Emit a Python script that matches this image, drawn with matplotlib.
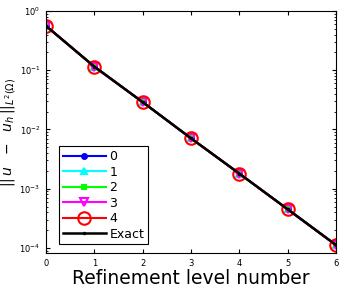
import numpy as np
import matplotlib
matplotlib.use("Agg")
import matplotlib.pyplot as plt

levels = [0, 1, 2, 3, 4, 5, 6]
err = [0.56, 0.115, 0.029, 0.0071, 0.0018, 0.00045, 0.000112]
series = ["0", "1", "2", "3", "4"]

styles = {
    "0": dict(color="blue", marker="o", ms=3.5, mfc="blue"),
    "1": dict(color="cyan", marker="^", ms=5, mfc="cyan"),
    "2": dict(color="lime", marker="s", ms=3.5, mfc="none"),
    "3": dict(color="magenta", marker="v", ms=6, mfc="none"),
    "4": dict(color="red", marker="o", ms=9, mfc="none"),
}

fig = plt.figure(figsize=(3.49, 2.96), dpi=100)
ax = fig.add_axes([46 / 349, 43 / 296, 290 / 349, 242 / 296])

for s in series:
    st = styles[s]
    ax.plot(levels, err, color=st["color"], marker=st["marker"], markersize=st["ms"],
            markerfacecolor=st["mfc"], markeredgecolor=st["color"], lw=1.5, mew=1.5, label=s)
ax.plot(levels, err, color="black", marker=".", markersize=3, lw=1.8, label="Exact")

ax.set_yscale("log")
ax.set_xlim(0, 6)
ax.set_ylim(10 ** -4.085, 1)
ax.set_xticks(levels)
ax.tick_params(labelsize=6, direction="in", which="both", top=True, right=True, length=3, pad=4)
ax.tick_params(which="minor", length=1.5)
ax.set_xlabel("Refinement level number", fontsize=13.5, labelpad=1)
ax.set_ylabel(r"$||\,u\ \ -\ \ u_h\,||_{L^2(\Omega)}$", fontsize=10)
ax.yaxis.set_label_coords(-0.098, 0.5)

leg = ax.legend(loc="lower left", fontsize=9, handlelength=3.4, labelspacing=0.2,
                fancybox=False, edgecolor="black", framealpha=1, borderpad=0.3,
                handletextpad=0.3, bbox_to_anchor=(0.025, 0.01))
leg.get_frame().set_linewidth(0.8)

fig.savefig("out.png", dpi=100)
